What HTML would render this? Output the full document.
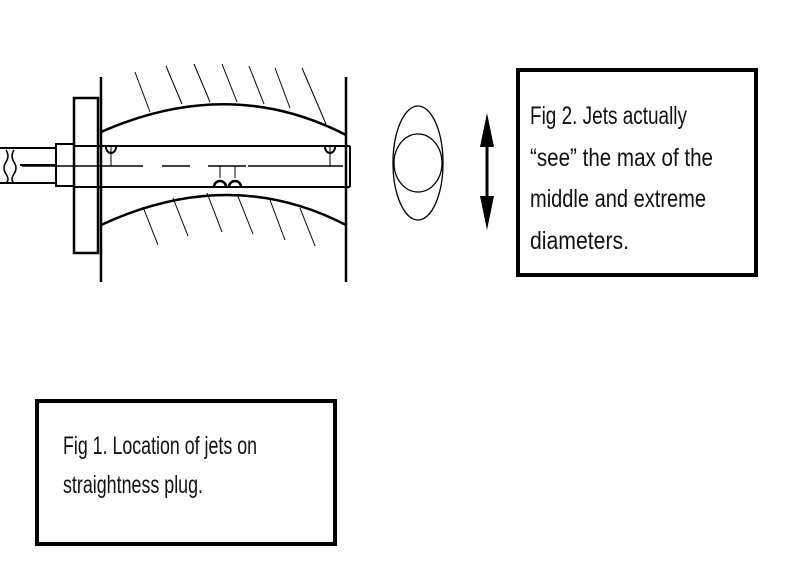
<!DOCTYPE html>
<html><head><meta charset="utf-8"><style>html,body{margin:0;padding:0;background:#fff}svg{display:block}</style></head><body>
<svg width="800" height="575" viewBox="0 0 800 575" xmlns="http://www.w3.org/2000/svg">
<rect width="800" height="575" fill="#fff"/>
<g stroke="#000" fill="none" stroke-width="2">
<line x1="0" y1="148" x2="56" y2="148"/>
<line x1="0" y1="183" x2="56" y2="183"/>
<line x1="20" y1="165" x2="56" y2="165"/>
<path d="M6 150 Q10 156 6 162 Q2 168 6 174 Q10 180 6 183" stroke-width="1.5"/>
<path d="M14 150 Q10 156 14 162 Q18 168 14 174 Q10 180 14 183" stroke-width="1.5"/>
<rect x="56" y="144" width="18" height="42"/>
<rect x="74" y="98" width="24" height="155" stroke-width="2.5"/>
<line x1="101" y1="77" x2="101" y2="282" stroke-width="2.5"/>
<line x1="346" y1="77" x2="346" y2="282" stroke-width="2.5"/>
<path d="M101 132 Q230 75 346 135" stroke-width="2.5"/>
<path d="M101 225 Q230 165 346 225" stroke-width="2.5"/>
<line x1="74" y1="146" x2="350" y2="146"/>
<line x1="74" y1="187" x2="350" y2="187"/>
<line x1="350" y1="146" x2="350" y2="187"/>
<line x1="22" y1="166" x2="143" y2="166" stroke-width="1.5"/>
<line x1="162" y1="166" x2="190" y2="166" stroke-width="1.5"/>
<line x1="208" y1="166" x2="246" y2="166" stroke-width="1.5"/>
<line x1="248" y1="166" x2="343" y2="166" stroke-width="1.5"/>
<line x1="111" y1="146" x2="111" y2="166" stroke-width="1"/>
<line x1="330" y1="146" x2="330" y2="166" stroke-width="1"/>
<line x1="220" y1="166" x2="220" y2="178" stroke-width="1"/>
<line x1="235" y1="166" x2="235" y2="178" stroke-width="1"/>
<path d="M106 147 A5 6 0 0 0 116 147" stroke-width="2"/>
<path d="M325 147 A5 6 0 0 0 335 147" stroke-width="2"/>
<path d="M214 187 A6 6 0 0 1 226 187 M229 187 A6 6 0 0 1 241 187" stroke-width="2.5"/>
<g stroke-width="1">
<line x1="135" y1="72" x2="150" y2="112"/>
<line x1="166" y1="66" x2="182" y2="104"/>
<line x1="194" y1="64" x2="210" y2="102"/>
<line x1="222" y1="64" x2="237" y2="102"/>
<line x1="249" y1="66" x2="264" y2="104"/>
<line x1="275" y1="68" x2="290" y2="108"/>
<line x1="302" y1="68" x2="326" y2="124"/>
<line x1="143" y1="207" x2="158" y2="245"/>
<line x1="173" y1="198" x2="188" y2="236"/>
<line x1="207" y1="193" x2="222" y2="232"/>
<line x1="237" y1="194" x2="253" y2="234"/>
<line x1="270" y1="200" x2="285" y2="240"/>
<line x1="300" y1="208" x2="315" y2="246"/>
</g>
<ellipse cx="418" cy="163" rx="25" ry="57" stroke-width="1.3"/>
<ellipse cx="418" cy="163" rx="24" ry="29" stroke-width="1.3"/>
<line x1="487" y1="125" x2="487" y2="218" stroke-width="3"/>
</g>
<polygon points="487,113 480,147 494,147" fill="#000"/>
<polygon points="487,230 480,196 494,196" fill="#000"/>
<rect x="518" y="70" width="238" height="205" fill="none" stroke="#000" stroke-width="4"/>
<rect x="37" y="401" width="298" height="143" fill="none" stroke="#000" stroke-width="4"/>
<g font-family="Liberation Sans, sans-serif" font-size="25" fill="#111">
<text x="530" y="124" textLength="157" lengthAdjust="spacingAndGlyphs">Fig 2. Jets actually</text>
<text x="530" y="166" textLength="183" lengthAdjust="spacingAndGlyphs">“see” the max of the</text>
<text x="530" y="207" textLength="176" lengthAdjust="spacingAndGlyphs">middle and extreme</text>
<text x="530" y="249" textLength="99" lengthAdjust="spacingAndGlyphs">diameters.</text>
<text x="63" y="454" textLength="194" lengthAdjust="spacingAndGlyphs">Fig 1. Location of jets on</text>
<text x="63" y="493" textLength="140" lengthAdjust="spacingAndGlyphs">straightness plug.</text>
</g>
</svg>
</body></html>
